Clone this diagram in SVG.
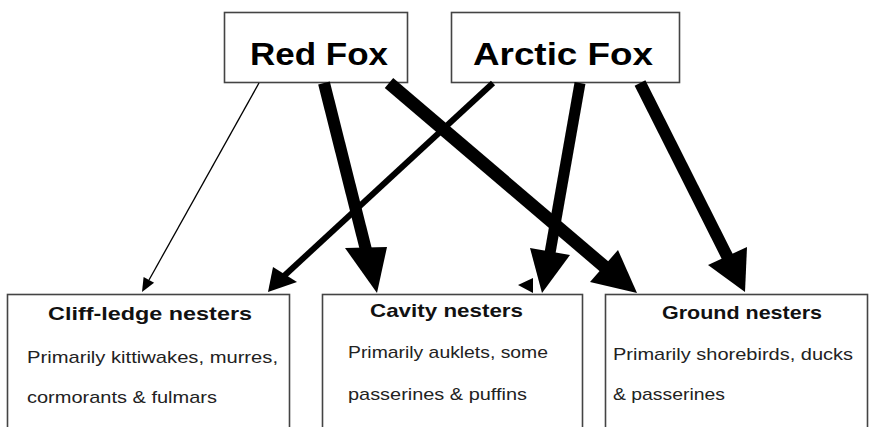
<svg xmlns="http://www.w3.org/2000/svg" width="872" height="427" viewBox="0 0 872 427">
<style>
.box{fill:#fff;stroke:#444;stroke-width:1.6}
.t{font-family:"Liberation Sans",Arial,sans-serif;fill:#000}
.top{font-size:31px;font-weight:bold}
.hd{font-size:19px;font-weight:bold;fill:#111}
.bd{font-size:17px;fill:#222}
.ln{stroke:#000;fill:none;stroke-linecap:butt}
.hdf{fill:#000;stroke:none}
</style>
<rect width="872" height="427" fill="#fff"/>
<g id="red-fox">
<rect class="box" x="224.5" y="12.5" width="183" height="70"/>
<text class="t top" x="250" y="65" textLength="138" lengthAdjust="spacingAndGlyphs">Red Fox</text>
</g>
<g id="arctic-fox">
<rect class="box" x="451.5" y="12.5" width="228" height="70"/>
<text class="t top" x="473" y="65" textLength="180" lengthAdjust="spacingAndGlyphs">Arctic Fox</text>
</g>
<g id="cliff-ledge">
<rect class="box" x="7.5" y="294.5" width="282" height="140"/>
<text class="t hd" x="48" y="320" textLength="204" lengthAdjust="spacingAndGlyphs">Cliff-ledge nesters</text>
<text class="t bd" x="27" y="363" textLength="251" lengthAdjust="spacingAndGlyphs">Primarily kittiwakes, murres,</text>
<text class="t bd" x="27" y="403" textLength="190" lengthAdjust="spacingAndGlyphs">cormorants &amp; fulmars</text>
</g>
<g id="cavity">
<rect class="box" x="322.5" y="294.5" width="260" height="140"/>
<text class="t hd" x="370" y="317" textLength="153" lengthAdjust="spacingAndGlyphs">Cavity nesters</text>
<text class="t bd" x="348" y="358" textLength="200" lengthAdjust="spacingAndGlyphs">Primarily auklets, some</text>
<text class="t bd" x="348" y="400" textLength="179" lengthAdjust="spacingAndGlyphs">passerines &amp; puffins</text>
</g>
<g id="ground">
<rect class="box" x="605.5" y="294.5" width="262" height="140"/>
<text class="t hd" x="662" y="319" textLength="160" lengthAdjust="spacingAndGlyphs">Ground nesters</text>
<text class="t bd" x="613" y="360" textLength="240" lengthAdjust="spacingAndGlyphs">Primarily shorebirds, ducks</text>
<text class="t bd" x="613" y="400" textLength="112" lengthAdjust="spacingAndGlyphs">&amp; passerines</text>
</g>
<g id="connectors">
<line class="ln" x1="259" y1="83" x2="149" y2="280" stroke-width="1.3"/>
<polygon class="hdf" points="142,292 143.6,276.9 154.1,282.7"/>
<line class="ln" x1="324" y1="83" x2="366" y2="250" stroke-width="12"/>
<polygon class="hdf" points="377,293 345,248 387,247"/>
<line class="ln" x1="389" y1="83" x2="606" y2="268" stroke-width="13"/>
<polygon class="hdf" points="637,293 590,282 618,250"/>
<line class="ln" x1="493" y1="83" x2="284" y2="276" stroke-width="6"/>
<polygon class="hdf" points="268,292 273,267 297,282"/>
<line class="ln" x1="580" y1="83" x2="550" y2="253" stroke-width="11"/>
<polygon class="hdf" points="542,293 530,248 570,255"/>
<line class="ln" x1="640" y1="83" x2="728" y2="258" stroke-width="12"/>
<polygon class="hdf" points="745,292 708,265 747,247"/>
<polygon class="hdf" points="518,285 533,278 533,293"/>
</g>
</svg>
